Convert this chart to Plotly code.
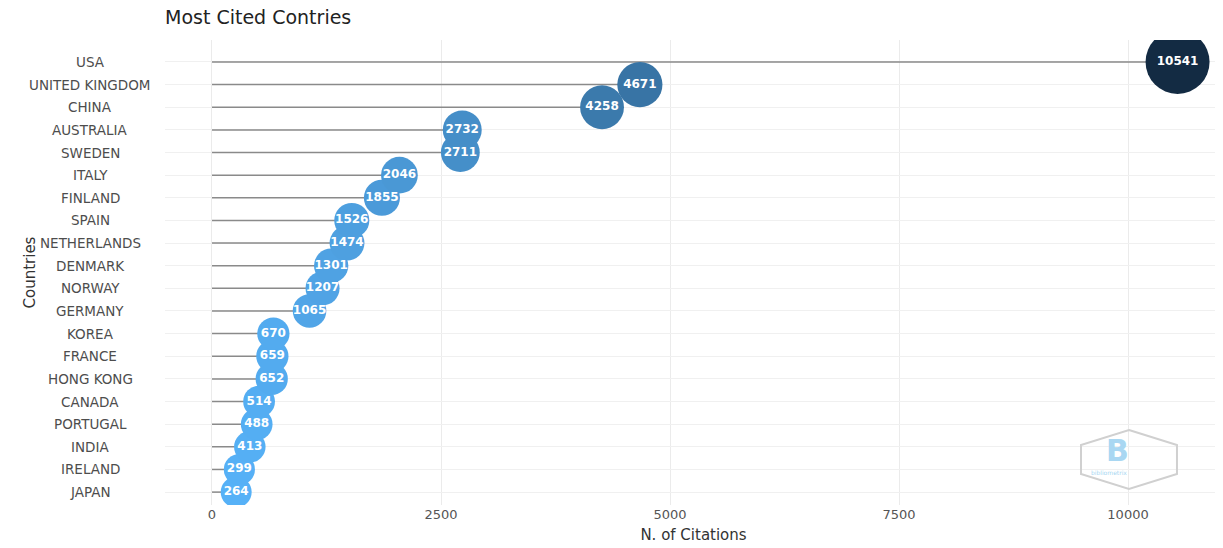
import plotly.graph_objects as go

# DATA (top to bottom as shown)
countries = ["USA", "UNITED KINGDOM", "CHINA", "AUSTRALIA", "SWEDEN", "ITALY", "FINLAND",
             "SPAIN", "NETHERLANDS", "DENMARK", "NORWAY", "GERMANY", "KOREA", "FRANCE",
             "HONG KONG", "CANADA", "PORTUGAL", "INDIA", "IRELAND", "JAPAN"]
citations = [10541, 4671, 4258, 2732, 2711, 2046, 1855, 1526, 1474, 1301, 1207, 1065,
             670, 659, 652, 514, 488, 413, 299, 264]
xticks = [0, 2500, 5000, 7500, 10000]

# plot bottom-to-top so JAPAN sits at index 0
countries = countries[::-1]
citations = citations[::-1]


# ggplot-like gradient (Lab interpolation) from light blue to dark navy
def hex_to_lab(h):
    r, g, b = [int(h[i:i + 2], 16) / 255 for i in (1, 3, 5)]
    lin = [c / 12.92 if c <= 0.04045 else ((c + 0.055) / 1.055) ** 2.4 for c in (r, g, b)]
    X = (0.4124 * lin[0] + 0.3576 * lin[1] + 0.1805 * lin[2]) / 0.95047
    Y = (0.2126 * lin[0] + 0.7152 * lin[1] + 0.0722 * lin[2])
    Z = (0.0193 * lin[0] + 0.1192 * lin[1] + 0.9505 * lin[2]) / 1.08883
    f = lambda t: t ** (1 / 3) if t > 0.008856 else 7.787 * t + 16 / 116
    return 116 * f(Y) - 16, 500 * (f(X) - f(Y)), 200 * (f(Y) - f(Z))


def lab_to_hex(L, a, b):
    fy = (L + 16) / 116
    fx = fy + a / 500
    fz = fy - b / 200
    g = lambda t: t ** 3 if t ** 3 > 0.008856 else (t - 16 / 116) / 7.787
    X, Y, Z = g(fx) * 0.95047, g(fy), g(fz) * 1.08883
    rl = 3.2406 * X - 1.5372 * Y - 0.4986 * Z
    gl = -0.9689 * X + 1.8758 * Y + 0.0415 * Z
    bl = 0.0557 * X - 0.2040 * Y + 1.0570 * Z
    out = []
    for c in (rl, gl, bl):
        c = 12.92 * c if c <= 0.0031308 else 1.055 * c ** (1 / 2.4) - 0.055
        out.append(max(0, min(255, round(c * 255))))
    return "#%02x%02x%02x" % tuple(out)


lo, hi = hex_to_lab("#56B1F7"), hex_to_lab("#132B43")
colorscale = []
for i in range(11):
    t = i / 10
    colorscale.append([t, lab_to_hex(*[lo[k] + (hi[k] - lo[k]) * t for k in range(3)])])

vmin, vmax = min(citations), max(citations)
sizes = [31 + (v - vmin) / (vmax - vmin) * 33 for v in citations]

# stems
lx, ly = [], []
for c, v in zip(countries, citations):
    lx += [0, v, None]
    ly += [c, c, None]

fig = go.Figure()
fig.add_trace(go.Scatter(x=lx, y=ly, mode="lines", line=dict(color="#8a8a8a", width=1.5),
                         hoverinfo="skip", showlegend=False))
fig.add_trace(go.Scatter(
    x=citations, y=countries, mode="markers+text", text=[str(v) for v in citations],
    textfont=dict(color="white", size=12, family="DejaVu Sans", weight="bold"),
    textposition="middle center",
    marker=dict(size=sizes, color=citations, colorscale=colorscale, cmin=vmin, cmax=vmax,
                opacity=1, line=dict(width=0)),
    showlegend=False))

W, H = 1215, 540
L, R, T, B = 157, 1214, 32, 497
px = lambda x: (x - L) / (R - L)
py = lambda y: (B - y) / (B - T)

# centred country labels
for c in countries:
    fig.add_annotation(x=px(82), y=c, xref="paper", yref="y", text=c, showarrow=False,
                       xanchor="center", font=dict(size=13.5, color="#4d4d4d", family="DejaVu Sans"))
fig.add_annotation(x=px(10), y=0.5, xref="paper", yref="paper", text="Countries", textangle=-90,
                   showarrow=False, font=dict(size=15, color="#333333", family="DejaVu Sans"))

# logo hexagon
hexpts = [(1121, 422), (1169, 437), (1169, 466), (1121, 481), (1073, 466), (1073, 437)]
path = "M " + " L ".join(f"{px(a):.4f},{py(b):.4f}" for a, b in hexpts) + " Z"
fig.add_shape(type="path", path=path, xref="paper", yref="paper",
              line=dict(color="#d0d0d0", width=2), fillcolor="rgba(255,255,255,0)")
fig.add_annotation(x=px(1123), y=py(462), xref="paper", yref="paper", text="<b>B</b>",
                   showarrow=False, font=dict(size=30, color="#a9d7f2", family="DejaVu Sans"))
fig.add_annotation(x=px(1121), y=py(470), xref="paper", yref="paper", text="bibliometrix",
                   showarrow=False, font=dict(size=6, color="#a9d7f2", family="DejaVu Sans"))

fig.add_annotation(x=L / W, y=1 - 3 / H, xref="paper", yref="paper", text="Most Cited Contries",
                   showarrow=False, xanchor="left", yanchor="top",
                   font=dict(size=19, color="#222222", family="DejaVu Sans"))
fig.update_layout(
    width=W, height=H,
    margin=dict(l=L, r=W - R, t=T, b=H - B),
    paper_bgcolor="white", plot_bgcolor="white",
    font=dict(family="DejaVu Sans", color="#444444"),
    title=dict(text="Most Cited Contries", x=L / W, xref="container", xanchor="left",
               y=1 - 3 / H, yref="container", yanchor="top",
               font=dict(size=19, color="#222222")),
    xaxis=dict(range=[-513, 11026], tickvals=xticks, ticktext=[str(t) for t in xticks],
               showgrid=True, gridcolor="#ebebeb", gridwidth=1, zeroline=False,
               tickfont=dict(size=13, color="#555555"),
               title=dict(text="N. of Citations", font=dict(size=15, color="#333333"), standoff=8)),
    yaxis=dict(categoryorder="array", categoryarray=countries, range=[-0.57, 19.97],
               showgrid=True, gridcolor="#f0f0f0", gridwidth=1, zeroline=False,
               showticklabels=False),
)
# keep only the layout title
fig.layout.annotations = fig.layout.annotations[:-1]

fig.write_html("out.html")
